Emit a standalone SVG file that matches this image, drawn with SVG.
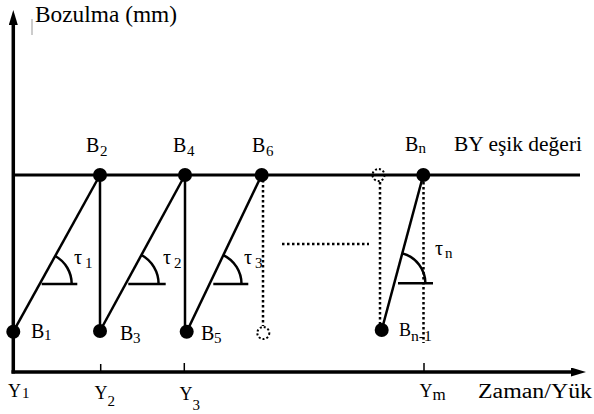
<svg xmlns="http://www.w3.org/2000/svg" width="594" height="414" viewBox="0 0 594 414">
<defs>
<style>
.m{font-size:20px}
.s{font-size:15px}
.axis{stroke:#000;stroke-width:3.5;fill:none}
.solid{stroke:#000;stroke-width:2.5;fill:none}
.dotl{stroke:#000;stroke-width:2.5;stroke-dasharray:2.5 2.5;fill:none}
.node{fill:#000}
.ghost{fill:none;stroke:#000;stroke-width:2;stroke-dasharray:2 2}
.ang{stroke:#000;stroke-width:2.5;fill:none}
.tick{stroke:#000;stroke-width:1.5}
</style>
<marker id="arr" markerUnits="userSpaceOnUse" markerWidth="16" markerHeight="10" refX="0" refY="4.5" orient="auto">
<path d="M0,0 L15,4.5 L0,9 z" fill="#000"/>
</marker>
</defs>
<rect width="594" height="414" fill="#fff"/>

<g id="axes">
<line class="axis" x1="13.3" y1="373.5" x2="13.3" y2="25" marker-end="url(#arr)"/>
<line class="axis" x1="11.5" y1="372" x2="571" y2="372" marker-end="url(#arr)"/>
<line class="tick" x1="100.7" y1="364" x2="100.7" y2="372"/>
<line class="tick" x1="184.3" y1="363" x2="184.3" y2="372"/>
<line class="tick" x1="424" y1="363" x2="424" y2="372"/>
<line x1="32" y1="19" x2="32" y2="35" stroke="#999" stroke-width="1"/>
</g>

<g id="threshold">
<line x1="13" y1="175" x2="580" y2="175" stroke="#000" stroke-width="3"/>
</g>

<g id="connectors">
<line class="solid" x1="13.3" y1="331.7" x2="100" y2="175"/>
<line class="solid" x1="100" y1="175" x2="100" y2="331"/>
<line class="solid" x1="100" y1="331" x2="185" y2="175"/>
<line class="solid" x1="185" y1="175" x2="185" y2="331.7"/>
<line class="solid" x1="186.7" y1="331.7" x2="261.7" y2="175"/>
<line class="dotl" x1="263" y1="180" x2="263" y2="326"/>
<line class="dotl" x1="282" y1="244" x2="369" y2="244"/>
<line class="dotl" x1="380" y1="182" x2="380" y2="324"/>
<line class="dotl" x1="423.5" y1="182" x2="423.5" y2="343"/>
<line class="solid" x1="423.3" y1="175" x2="381.7" y2="330"/>
</g>

<g id="angles">
<path class="ang" d="M41.7,284 H77.3 M71.7,284 A32,32 0 0 0 55.2,256"/>
<path class="ang" d="M128.3,284 H165.7 M158.6,284 A33,33 0 0 0 141.4,255"/>
<path class="ang" d="M213.3,284 H248.3 M241.5,284 A32,32 0 0 0 223.3,255.1"/>
<path class="ang" d="M398,283.3 H433 M425.4,283.3 A31,31 0 0 0 402.4,253.4"/>
</g>

<g font-family="Liberation Serif, DejaVu Serif, serif" fill="#000">
<g id="B1"><circle class="node" cx="13.3" cy="331.7" r="7"/><text class="m" x="31" y="338">B<tspan class="s" x="44" y="340">1</tspan></text></g>
<g id="B2"><circle class="node" cx="100" cy="175" r="7"/><text class="m" x="86" y="152">B<tspan class="s" x="100" y="156">2</tspan></text></g>
<g id="B3"><circle class="node" cx="100" cy="331" r="7"/><text class="m" x="120" y="340">B<tspan class="s" x="133" y="343">3</tspan></text></g>
<g id="B4"><circle class="node" cx="185" cy="175" r="7"/><text class="m" x="173" y="152">B<tspan class="s" x="187" y="156">4</tspan></text></g>
<g id="B5"><circle class="node" cx="186.7" cy="331.7" r="7"/><text class="m" x="201" y="340">B<tspan class="s" x="214" y="343">5</tspan></text></g>
<g id="B6"><circle class="node" cx="261.7" cy="175" r="7"/><text class="m" x="252" y="152">B<tspan class="s" x="266" y="156">6</tspan></text></g>
<g id="ghost-bottom"><circle class="ghost" cx="263.3" cy="333" r="6"/></g>
<g id="ghost-top"><circle class="ghost" cx="378.5" cy="175" r="6"/></g>
<g id="Bn"><circle class="node" cx="423.3" cy="175" r="7"/><text class="m" x="405" y="151">B<tspan class="s" x="418.5" y="153">n</tspan></text></g>
<g id="Bn-1"><circle class="node" cx="381.7" cy="330" r="7"/><text x="399" y="336" font-size="18">B<tspan x="411" y="341" font-size="14" textLength="21" lengthAdjust="spacingAndGlyphs">n-1</tspan></text></g>

<g id="tau-labels">
<text class="m" x="74" y="264">τ<tspan class="s" x="85" y="268">1</tspan></text>
<text class="m" x="163" y="264">τ<tspan class="s" x="174" y="268">2</tspan></text>
<text class="m" x="244" y="264">τ<tspan class="s" x="255" y="268">3</tspan></text>
<text class="m" x="435" y="255">τ<tspan class="s" x="445" y="258">n</tspan></text>
</g>

<g id="Y-labels">
<text x="8" y="397" font-size="18">Y<tspan class="s" x="22" y="398">1</tspan></text>
<text x="94.5" y="399" font-size="18">Y<tspan class="s" x="107.5" y="406">2</tspan></text>
<text x="179.5" y="400" font-size="18">Y<tspan class="s" x="192.5" y="410">3</tspan></text>
<text x="419.5" y="397" font-size="18">Y<tspan x="432.5" y="400" font-size="17">m</tspan></text>
</g>

<g id="titles">
<text x="35" y="22" font-size="23" textLength="142" lengthAdjust="spacingAndGlyphs">Bozulma (mm)</text>
<text class="m" x="454" y="151" textLength="128" lengthAdjust="spacingAndGlyphs">BY eşik değeri</text>
<text class="m" x="478" y="398" textLength="114" lengthAdjust="spacingAndGlyphs">Zaman/Yük</text>
</g>
</g>
</svg>
